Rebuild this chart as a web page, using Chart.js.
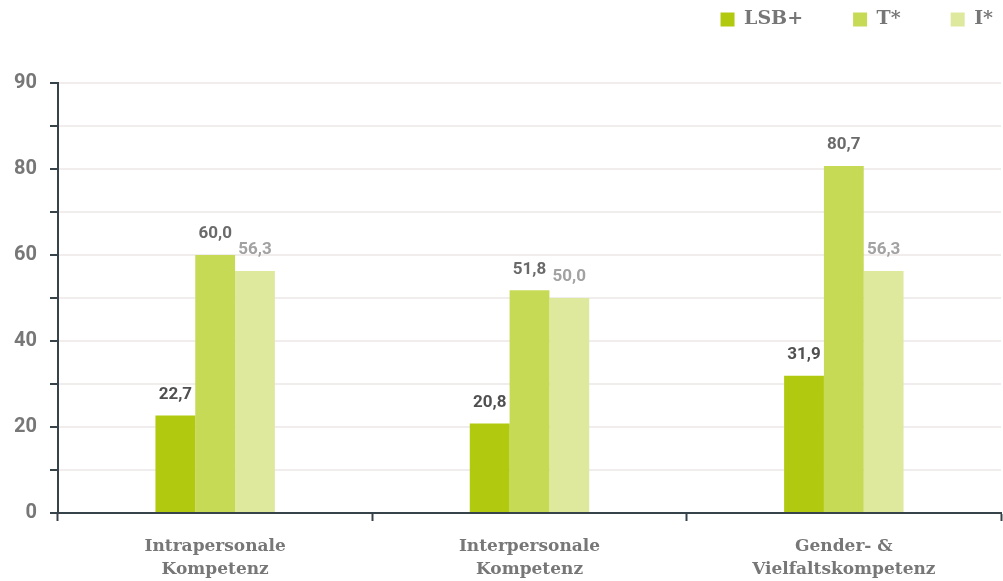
<!DOCTYPE html>
<html>
<head>
<meta charset="utf-8">
<script src="https://cdn.jsdelivr.net/npm/chart.js@4/dist/chart.umd.min.js"></script>
<style>
  html, body { margin: 0; padding: 0; background: #fff; }
</style>
</head>
<body>
<canvas id="myChart" width="1003" height="581"></canvas>
<script>
const categories = [
  ['Intrapersonale', 'Kompetenz'],
  ['Interpersonale', 'Kompetenz'],
  ['Gender- &', 'Vielfaltskompetenz']
];
const seriesNames = ['LSB+', 'T*', 'I*'];
const lsbValues = [22.7, 20.8, 31.9];
const tValues = [60.0, 51.8, 80.7];
const iValues = [56.3, 50.0, 56.3];
const yTickLabels = ['0', '', '20', '', '40', '', '60', '', '80', '', '90'];

const axisColor = '#37434a';
const labelColors = ['#505050', '#6a6a6a', '#a2a2a2'];

// value labels above each bar, German decimal comma
const barValues = {
  id: 'barValues',
  afterDatasetsDraw(chart) {
    const c = chart.ctx;
    c.save();
    c.font = 'bold 17px Roboto';
    c.textAlign = 'center';
    c.textBaseline = 'middle';
    chart.data.datasets.forEach((ds, di) => {
      c.fillStyle = labelColors[di];
      chart.getDatasetMeta(di).data.forEach((bar, i) => {
        c.fillText(ds.data[i].toFixed(1).replace('.', ','), bar.x, bar.y - 21);
      });
    });
    c.restore();
  }
};

// move the legend row up and towards the right edge
const legendShift = {
  id: 'legendShift',
  afterLayout(chart) {
    chart.legend.right += chart.legend.options.labels.padding - 8;
    chart.legend.top -= 44;
  }
};

const ctx = document.getElementById('myChart').getContext('2d');

new Chart(ctx, {
  type: 'bar',
  data: {
    labels: categories,
    datasets: [
      { label: seriesNames[0], data: lsbValues, backgroundColor: '#b1c90f' },
      { label: seriesNames[1], data: tValues, backgroundColor: '#c7da56' },
      { label: seriesNames[2], data: iValues, backgroundColor: '#dfe99d' }
    ]
  },
  options: {
    responsive: false,
    animation: false,
    categoryPercentage: 0.38,
    barPercentage: 1.0,
    layout: { padding: { top: 4, right: 2, left: 0, bottom: 0 } },
    plugins: {
      tooltip: { enabled: false },
      legend: {
        position: 'top',
        align: 'end',
        labels: {
          boxWidth: 14,
          boxHeight: 14,
          padding: 50,
          color: '#767676',
          font: { family: 'DejaVu Serif', size: 19, weight: 'bold' }
        }
      }
    },
    scales: {
      x: {
        offset: true,
        grid: {
          offset: true,
          drawOnChartArea: false,
          tickLength: 8,
          tickColor: axisColor,
          tickWidth: 2
        },
        border: { color: axisColor, width: 2 },
        ticks: {
          color: '#777',
          padding: 14,
          font: { family: 'DejaVu Serif', size: 17, weight: 'bold', lineHeight: 1.35 }
        },
        afterFit(scale) { scale.height = 68; }
      },
      y: {
        min: 0,
        max: 100,
        grid: {
          color: '#f1eded',
          lineWidth: 2,
          tickLength: 8,
          tickColor: axisColor,
          tickWidth: 2
        },
        border: { color: axisColor, width: 2 },
        ticks: {
          stepSize: 10,
          autoSkip: false,
          padding: 13,
          color: '#777',
          font: { family: 'Roboto', size: 20, weight: 'bold' },
          callback: (v, i) => yTickLabels[i]
        },
        afterFit(scale) { scale.width = 58; }
      }
    }
  },
  plugins: [barValues, legendShift]
});
</script>
</body>
</html>
